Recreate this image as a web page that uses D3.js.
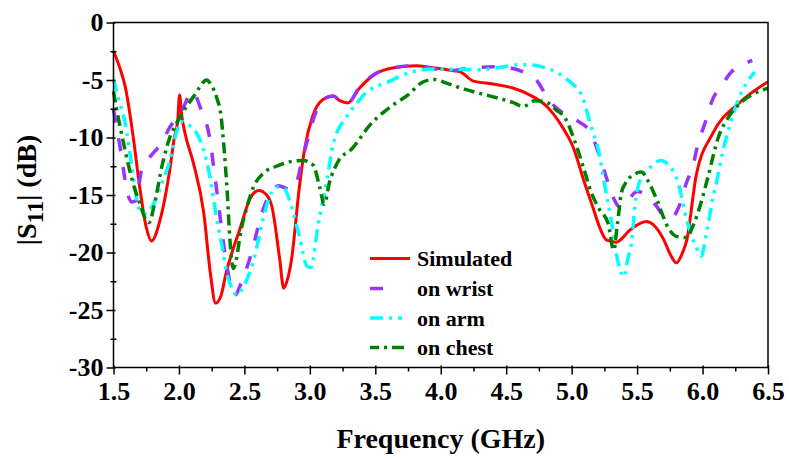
<!DOCTYPE html>
<html><head><meta charset="utf-8">
<script src="https://cdn.jsdelivr.net/npm/d3@7"></script>
<style>body{margin:0;background:#fff}svg{display:block}text{font-family:"Liberation Serif","Times New Roman",serif;font-weight:bold;fill:#000}</style>
</head><body>
<svg id="c" width="789" height="460"></svg>
<script>
// ---- data ----
const xTicks = [1.5,2.0,2.5,3.0,3.5,4.0,4.5,5.0,5.5,6.0,6.5];
const yTicks = [0,-5,-10,-15,-20,-25,-30];
const seriesNames = ["Simulated","on wrist","on arm","on chest"];

const simulated = [[1.50,-2.5],[1.55,-4.0],[1.59,-5.6],[1.65,-9.9],[1.70,-14.3],[1.75,-17.8],[1.79,-19.0],[1.855,-17.2],[1.93,-12.8],[1.965,-10.0],[1.99,-8.6],[2.005,-6.3],[2.02,-8.0],[2.05,-9.8],[2.11,-12.2],[2.19,-16.6],[2.24,-21.8],[2.28,-24.4],[2.32,-23.8],[2.36,-21.8],[2.47,-17.8],[2.54,-15.4],[2.61,-14.6],[2.67,-15.0],[2.71,-16.0],[2.77,-20.6],[2.80,-23.1],[2.83,-22.3],[2.86,-20.6],[2.92,-14.3],[2.96,-11.0],[3.02,-8.2],[3.10,-6.7],[3.18,-6.4],[3.23,-6.8],[3.29,-7.0],[3.38,-5.7],[3.51,-4.4],[3.66,-3.9],[3.81,-3.75],[3.92,-3.9],[4.05,-4.1],[4.15,-4.3],[4.25,-5.1],[4.40,-5.35],[4.55,-5.7],[4.68,-6.3],[4.81,-7.3],[4.93,-9.1],[5.01,-10.8],[5.10,-14.0],[5.16,-16.0],[5.22,-18.0],[5.265,-18.9],[5.34,-19.1],[5.45,-18.0],[5.57,-17.3],[5.65,-17.9],[5.70,-18.8],[5.76,-20.3],[5.80,-20.9],[5.84,-20.2],[5.88,-18.9],[5.95,-13.4],[6.08,-9.6],[6.28,-7.0],[6.50,-5.15]];

const onWrist = [[1.50,-7.6],[1.53,-9.5],[1.56,-11.5],[1.60,-14.5],[1.64,-15.6],[1.67,-15.5],[1.715,-12.8],[1.80,-11.4],[1.88,-10.3],[1.92,-9.3],[1.99,-8.2],[2.05,-7.0],[2.09,-6.0],[2.12,-6.2],[2.16,-7.3],[2.24,-10.4],[2.27,-13.0],[2.31,-16.5],[2.34,-19.2],[2.40,-23.0],[2.43,-23.7],[2.47,-22.8],[2.555,-20.0],[2.63,-16.7],[2.695,-14.9],[2.76,-14.2],[2.85,-14.5],[2.885,-14.3],[2.94,-12.0],[3.0,-9.5],[3.025,-8.5],[3.10,-6.7],[3.18,-6.4],[3.23,-6.8],[3.29,-7.0],[3.38,-5.6],[3.51,-4.4],[3.66,-3.9],[3.81,-3.75],[3.97,-4.07],[4.07,-4.2],[4.20,-4.0],[4.40,-3.85],[4.50,-3.9],[4.63,-4.3],[4.73,-5.0],[4.83,-6.8],[4.95,-8.0],[5.05,-8.6],[5.14,-9.5],[5.21,-11.5],[5.275,-13.8],[5.33,-15.5],[5.37,-16.1],[5.44,-15.3],[5.50,-14.7],[5.57,-15.0],[5.65,-16.0],[5.72,-17.0],[5.78,-16.8],[5.82,-16.0],[5.875,-14.0],[5.93,-12.3],[5.96,-10.8],[6.02,-8.7],[6.08,-6.6],[6.14,-5.6],[6.22,-4.3],[6.30,-3.7],[6.38,-3.3]];

const onArm = [[1.50,-4.9],[1.535,-6.5],[1.59,-8.8],[1.64,-12.5],[1.70,-16.3],[1.75,-16.6],[1.80,-15.9],[1.87,-14.0],[1.93,-12.0],[1.98,-9.6],[2.01,-8.6],[2.06,-8.8],[2.16,-10.2],[2.21,-12.0],[2.25,-14.3],[2.29,-17.2],[2.33,-19.5],[2.365,-21.8],[2.415,-23.3],[2.44,-23.7],[2.49,-23.0],[2.57,-20.7],[2.64,-17.2],[2.695,-15.1],[2.75,-14.3],[2.80,-14.4],[2.86,-16.0],[2.92,-18.6],[2.98,-21.2],[3.01,-21.3],[3.06,-17.8],[3.13,-13.7],[3.18,-10.5],[3.28,-8.2],[3.36,-7.0],[3.42,-6.2],[3.61,-5.1],[3.75,-4.4],[3.95,-4.05],[4.10,-4.07],[4.30,-4.1],[4.45,-3.9],[4.60,-3.67],[4.70,-3.7],[4.80,-3.95],[4.88,-4.3],[4.96,-4.9],[5.03,-5.6],[5.08,-6.4],[5.14,-8.7],[5.21,-11.4],[5.26,-14.6],[5.31,-17.7],[5.34,-20.0],[5.40,-22.1],[5.43,-20.5],[5.46,-18.9],[5.48,-16.3],[5.53,-13.5],[5.60,-12.6],[5.68,-12.0],[5.75,-12.5],[5.81,-13.8],[5.88,-17.2],[5.95,-19.5],[5.99,-20.3],[6.03,-18.3],[6.08,-15.2],[6.11,-13.7],[6.155,-11.2],[6.21,-8.9],[6.27,-6.8],[6.34,-5.2],[6.40,-4.3]];

const onChest = [[1.50,-6.0],[1.52,-7.3],[1.56,-9.6],[1.61,-12.2],[1.65,-14.0],[1.70,-15.7],[1.75,-17.2],[1.77,-17.4],[1.82,-15.4],[1.87,-12.5],[1.93,-10.0],[1.98,-8.8],[2.02,-8.0],[2.07,-7.1],[2.12,-6.3],[2.16,-5.6],[2.21,-5.0],[2.25,-5.5],[2.29,-6.6],[2.32,-8.0],[2.345,-11.0],[2.37,-15.0],[2.39,-19.0],[2.415,-21.4],[2.44,-20.5],[2.466,-18.6],[2.52,-16.0],[2.57,-14.3],[2.645,-13.1],[2.745,-12.5],[2.85,-12.1],[2.95,-12.0],[3.025,-12.4],[3.075,-14.3],[3.11,-15.8],[3.15,-13.9],[3.22,-12.0],[3.32,-11.0],[3.46,-8.9],[3.62,-7.3],[3.75,-6.3],[3.86,-5.2],[3.95,-4.95],[4.05,-5.3],[4.18,-5.8],[4.38,-6.4],[4.55,-6.95],[4.63,-7.3],[4.72,-6.8],[4.80,-6.9],[4.88,-7.6],[4.95,-8.3],[5.02,-10.2],[5.09,-12.6],[5.15,-14.8],[5.21,-16.2],[5.28,-17.5],[5.32,-19.8],[5.35,-17.5],[5.38,-14.8],[5.41,-14.0],[5.48,-13.2],[5.53,-13.0],[5.59,-13.9],[5.65,-15.4],[5.74,-17.9],[5.80,-18.6],[5.875,-18.7],[5.93,-17.6],[5.99,-15.6],[6.04,-13.5],[6.12,-10.0],[6.20,-8.2],[6.30,-6.9],[6.45,-5.9],[6.50,-5.7]];

// ---- layout / styles ----
const L = 113.5, R = 768, T = 22.5, B = 367.5;
const styles = [
  {data: simulated, color: "#ff0000", dash: null, w: 3, legendDash: null},
  {data: onWrist, color: "#9933ff", dash: "13 16", w: 3.5, legendDash: "13 40"},
  {data: onArm, color: "#00ffff", dash: "13 6 3 6 3 6", w: 3.5, legendDash: "13 6 3 6 4 40"},
  {data: onChest, color: "#008000", dash: "11 5 3 5", w: 3.5, legendDash: "9 5 3 5 12 40"}
];

const svg = d3.select("#c");
const x = d3.scaleLinear().domain([1.5, 6.5]).range([L, R]);
const y = d3.scaleLinear().domain([0, -30]).range([T, B]);

// curves
const line = d3.line().x(d => x(d[0])).y(d => y(d[1])).curve(d3.curveMonotoneX);
const gCurves = svg.append("g");
styles.forEach(s => {
  gCurves.append("path").attr("d", line(s.data)).attr("fill", "none")
    .attr("stroke", s.color).attr("stroke-width", s.w)
    .attr("stroke-dasharray", s.dash).attr("stroke-linejoin", "round");
});

// frame
svg.append("rect").attr("x", L).attr("y", T).attr("width", R - L).attr("height", B - T)
  .attr("fill", "none").attr("stroke", "#000").attr("stroke-width", 1.5);

// x axis
const xMinor = d3.range(1.75, 6.5, 0.5);
const gx = svg.append("g").attr("transform", `translate(0,${B})`);
gx.call(d3.axisBottom(x).tickValues(xTicks).tickFormat(d3.format(".1f")).tickSize(7).tickPadding(7));
gx.select(".domain").remove();
gx.selectAll(".tick line").attr("stroke-width", 1.5).attr("y1", -2);
gx.selectAll(".tick text").attr("font-size", 26).attr("font-family", "Liberation Serif").attr("font-weight", "bold");
const gxm = svg.append("g").attr("transform", `translate(0,${B})`);
gxm.call(d3.axisBottom(x).tickValues(xMinor).tickFormat("").tickSize(4));
gxm.select(".domain").remove();
gxm.selectAll(".tick line").attr("stroke-width", 1.5);

// y axis
const yMinor = d3.range(-2.5, -30, -5);
const gy = svg.append("g").attr("transform", `translate(${L},0)`);
gy.call(d3.axisLeft(y).tickValues(yTicks).tickFormat(d3.format("d")).tickSize(7).tickPadding(3));
gy.select(".domain").remove();
gy.selectAll(".tick line").attr("stroke-width", 1.5).attr("x1", 2);
gy.selectAll(".tick text").attr("font-size", 26).attr("font-family", "Liberation Serif").attr("font-weight", "bold").text(d => d === 0 ? "0" : String(d).replace("\u2212", "-"));
const gym = svg.append("g").attr("transform", `translate(${L},0)`);
gym.call(d3.axisLeft(y).tickValues(yMinor).tickFormat("").tickSize(3));
gym.select(".domain").remove();
gym.selectAll(".tick line").attr("stroke-width", 1.5).attr("x1", 3);

// axis titles
svg.append("text").attr("x", (L + R) / 2).attr("y", 448).attr("text-anchor", "middle")
  .attr("font-size", 28).text("Frequency (GHz)");
const yt = svg.append("text").attr("transform", `translate(36,${(T + B) / 2 - 5}) rotate(-90)`)
  .attr("text-anchor", "middle").attr("font-size", 28);
yt.append("tspan").text("|S");
yt.append("tspan").attr("font-size", 24).attr("dy", 7).text("11");
yt.append("tspan").attr("dy", -7).text("| (dB)");

// legend
const legY = [258.5, 288.5, 318, 347.5];
const gl = svg.append("g");
styles.forEach((s, i) => {
  gl.append("line").attr("x1", 370).attr("x2", 410).attr("y1", legY[i]).attr("y2", legY[i])
    .attr("stroke", s.color).attr("stroke-width", s.w).attr("stroke-dasharray", s.legendDash);
  gl.append("text").attr("x", 417).attr("y", legY[i] + 7.5).attr("font-size", 22).text(seriesNames[i]);
});
</script>
</body></html>
